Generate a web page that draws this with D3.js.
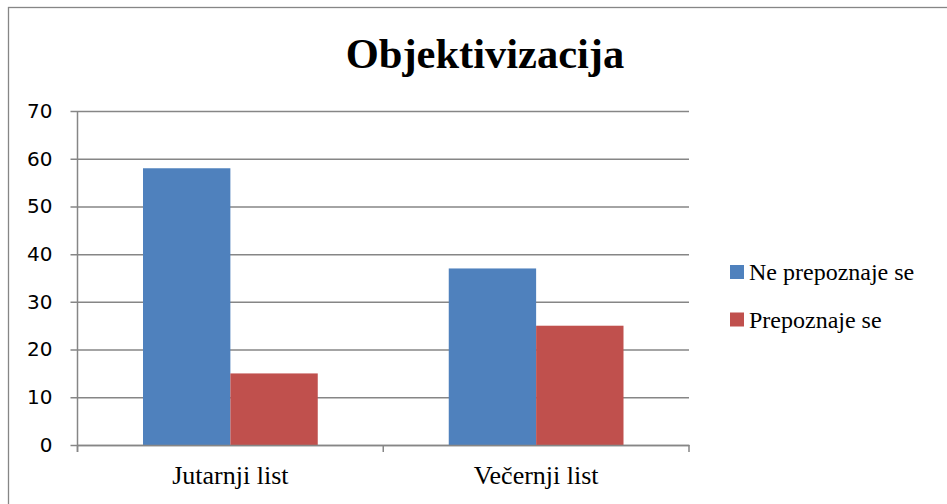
<!DOCTYPE html>
<meta charset="utf-8">
<html>
<head>
<style>
  body { margin: 0; background: #fff; }
  svg { display: block; }
  .serif { font-family: "Liberation Serif", "Times New Roman", serif !important; }
  .sans { font-family: "DejaVu Sans", Verdana, sans-serif !important; }
</style>
</head>
<script src="https://d3js.org/d3.v7.min.js"></script>
<body>
<div id="vis"></div>
<script>
  var categories = ["Jutarnji list", "Večernji list"];
  var seriesNames = ["Ne prepoznaje se", "Prepoznaje se"];
  var nePrepoznaje = [58, 37];
  var prepoznaje = [15, 25];
  var yTicks = [0, 10, 20, 30, 40, 50, 60, 70];
  var colors = ["#4F81BD", "#C0504D"];

  var W = 947, H = 504;
  var margin = {left: 77.5, top: 111, right: 258, bottom: 59};
  var width = W - margin.left - margin.right,
      height = H - margin.top - margin.bottom;

  var svg = d3.select("#vis").append("svg")
    .attr("width", W)
    .attr("height", H);

  // outer frame
  svg.append("rect")
    .attr("x", 8.5).attr("y", 7.5)
    .attr("width", W + 10).attr("height", H + 10)
    .style("fill", "none")
    .style("stroke", "#868686")
    .style("stroke-width", 1.3);

  svg.append("text")
    .attr("class", "serif")
    .attr("x", 485).attr("y", 68)
    .style("text-anchor", "middle")
    .style("font-weight", "bold")
    .style("font-size", "42.5px")
    .text("Objektivizacija");

  var g = svg.append("g")
    .attr("transform", "translate(" + margin.left + "," + margin.top + ")");

  var x0 = d3.scaleBand().domain(categories).range([0, width]).paddingInner(0).paddingOuter(0);
  var x1 = d3.scaleBand().domain(seriesNames).range([65.5, x0.bandwidth() - 65.5]);
  var y = d3.scaleLinear().domain([0, 70]).range([height, 0]);

  // gridlines + y axis
  var yAxis = g.append("g")
    .call(d3.axisLeft(y).tickValues(yTicks).tickSize(-width).tickPadding(25).tickFormat(d3.format("d")));
  yAxis.select(".domain").remove();
  yAxis.selectAll(".tick line")
    .attr("x1", -7)
    .style("stroke", "#868686")
    .style("stroke-width", 1.5);
  yAxis.selectAll("text")
    .attr("class", "sans")
    .style("font-size", "20px")
    .style("fill", "#000");

  var data = categories.map(function(c, i) {
    return {cat: c, vals: [nePrepoznaje[i], prepoznaje[i]]};
  });

  g.selectAll(".grp")
    .data(data)
    .enter().append("g")
    .attr("transform", function(d) { return "translate(" + x0(d.cat) + ",0)"; })
    .selectAll("rect")
    .data(function(d) { return d.vals.map(function(v, j) { return {s: seriesNames[j], v: v, j: j}; }); })
    .enter().append("rect")
    .attr("x", function(d) { return x1(d.s); })
    .attr("width", x1.bandwidth())
    .attr("y", function(d) { return y(d.v); })
    .attr("height", function(d) { return height - y(d.v); })
    .style("fill", function(d) { return colors[d.j]; });

  // y axis line
  g.append("line")
    .attr("x1", 0).attr("x2", 0)
    .attr("y1", 0).attr("y2", height + 7)
    .style("stroke", "#868686").style("stroke-width", 1.5);

  // x axis
  var xAxis = g.append("g")
    .attr("transform", "translate(0," + height + ")")
    .call(d3.axisBottom(x0).tickSize(0).tickPadding(21));
  xAxis.select(".domain")
    .style("stroke", "#868686").style("stroke-width", 1.5);
  xAxis.selectAll("text")
    .attr("class", "serif")
    .style("font-size", "26px")
    .style("fill", "#000");
  g.selectAll(".xtick")
    .data([0, x0.bandwidth(), width])
    .enter().append("line")
    .attr("x1", function(d) { return d; }).attr("x2", function(d) { return d; })
    .attr("y1", height).attr("y2", height + 7)
    .style("stroke", "#868686").style("stroke-width", 1.5);

  // legend
  var legend = svg.append("g").attr("transform", "translate(730,265)");
  var items = legend.selectAll("g")
    .data(seriesNames)
    .enter().append("g")
    .attr("transform", function(d, i) { return "translate(0," + (i * 47.5) + ")"; });
  items.append("rect")
    .attr("width", 14).attr("height", 14)
    .style("fill", function(d, i) { return colors[i]; });
  items.append("text")
    .attr("class", "serif")
    .attr("x", 19).attr("y", 15)
    .style("font-size", "24px")
    .text(function(d) { return d; });
</script>
</body>
</html>
